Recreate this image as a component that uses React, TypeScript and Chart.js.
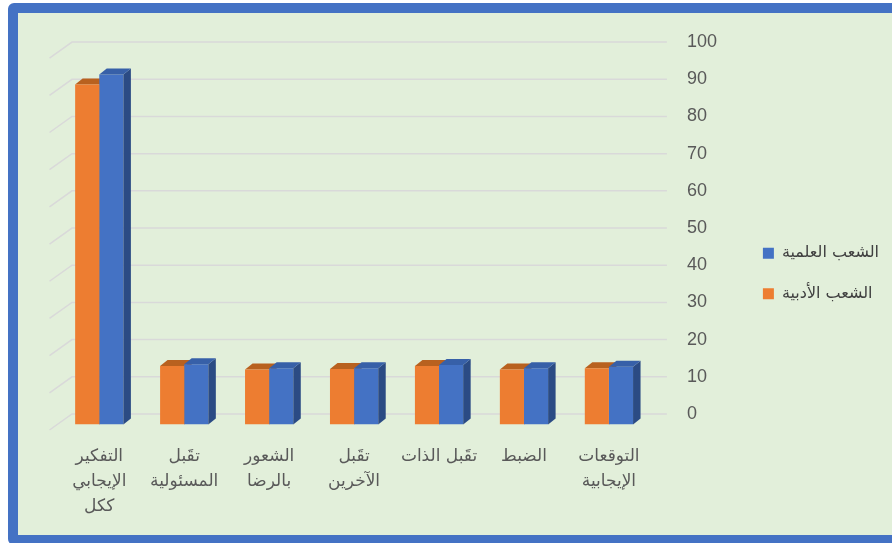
import React, { useEffect, useRef } from "react";
import { Chart, registerables } from "chart.js";

Chart.register(...registerables);

// ---- data ----
const categories: (string | string[])[] = [
  ["التفكير", "الإيجابي", "ككل"],
  ["تقَبل", "المسئولية"],
  ["الشعور", "بالرضا"],
  ["تقَبل", "الآخرين"],
  "تقَبل الذات",
  "الضبط",
  ["التوقعات", "الإيجابية"],
];
const seriesNames = ["الشعب الأدبية", "الشعب العلمية"];
const literaryValues = [91.4, 15.7, 14.8, 14.9, 15.7, 14.8, 15.1];
const scientificValues = [94.1, 16.2, 15.1, 15.1, 16.0, 15.1, 15.5];
const yTickValues = [0, 10, 20, 30, 40, 50, 60, 70, 80, 90, 100];

// ---- style ----
const ORANGE = "#ED7D31";
const ORANGE_TOP = "#B8611F";
const ORANGE_SIDE = "#A9561A";
const BLUE = "#4472C4";
const BLUE_TOP = "#3760A8";
const BLUE_SIDE = "#2B4B84";
const DEPTH_X = 7.5;
const DEPTH_Y = 6;
const GRID = "#D9D9D9";
const TEXT = "#595959";

function drawFaces(chart: any, dsIndex: number, topColor: string, sideColor: string) {
  const ctx = chart.ctx as CanvasRenderingContext2D;
  const meta = chart.getDatasetMeta(dsIndex);
  ctx.save();
  for (const el of meta.data) {
    const { x, y, base, width } = el.getProps(["x", "y", "base", "width"], true);
    const l = x - width / 2;
    const r = x + width / 2;
    ctx.fillStyle = sideColor;
    ctx.beginPath();
    ctx.moveTo(r, y);
    ctx.lineTo(r + DEPTH_X, y - DEPTH_Y);
    ctx.lineTo(r + DEPTH_X, base - DEPTH_Y);
    ctx.lineTo(r, base);
    ctx.closePath();
    ctx.fill();
    ctx.fillStyle = topColor;
    ctx.beginPath();
    ctx.moveTo(l, y);
    ctx.lineTo(l + DEPTH_X, y - DEPTH_Y);
    ctx.lineTo(r + DEPTH_X, y - DEPTH_Y);
    ctx.lineTo(r, y);
    ctx.closePath();
    ctx.fill();
  }
  ctx.restore();
}

const threeD = {
  id: "threeD",
  beforeDatasetsDraw(chart: any) {
    const { ctx, chartArea: a, scales } = chart;
    const ys = scales.y;
    ctx.save();
    ctx.strokeStyle = GRID;
    ctx.lineWidth = 1.5;
    for (const v of yTickValues) {
      const yb = ys.getPixelForValue(v) - 10.5;
      ctx.beginPath();
      ctx.moveTo(a.left - 7.3, yb + 16);
      ctx.lineTo(a.left + 15.2, yb);
      ctx.lineTo(a.right + 15.5, yb);
      ctx.stroke();
    }
    ctx.restore();
    drawFaces(chart, 0, ORANGE_TOP, ORANGE_SIDE);
  },
  afterDatasetsDraw(chart: any) {
    drawFaces(chart, 1, BLUE_TOP, BLUE_SIDE);
  },
};

export default function App() {
  const ref = useRef<HTMLCanvasElement>(null);
  useEffect(() => {
    const chart = new Chart(ref.current as HTMLCanvasElement, {
      type: "bar",
      data: {
        labels: categories,
        datasets: [
          { label: seriesNames[0], data: literaryValues, backgroundColor: ORANGE, borderWidth: 0 },
          { label: seriesNames[1], data: scientificValues, backgroundColor: BLUE, borderWidth: 0 },
        ],
      },
      options: {
        responsive: false,
        animation: false,
        layout: { padding: { left: 56.8, top: 18.9, right: 3, bottom: 15 } },
        datasets: { bar: { categoryPercentage: 0.568, barPercentage: 1 } },
        scales: {
          x: {
            offset: true,
            grid: { display: false, drawTicks: false },
            border: { display: false },
            ticks: {
              padding: 20,
              color: TEXT,
              autoSkip: false,
              maxRotation: 0,
              minRotation: 0,
              font: { family: "'DejaVu Sans', sans-serif", size: 17, lineHeight: 1.45 },
            },
            afterFit: (s: any) => {
              s.height = 103.5;
            },
          },
          y: {
            position: "right",
            min: 0,
            max: 101.7,
            afterBuildTicks: (s: any) => {
              s.ticks = yTickValues.map((v) => ({ value: v }));
            },
            grid: { display: false, drawTicks: false },
            border: { display: false },
            ticks: {
              labelOffset: -10.5,
              padding: 35.5,
              color: TEXT,
              font: { family: "'Liberation Sans', sans-serif", size: 18 },
            },
            afterFit: (s: any) => {
              s.width = 87;
            },
          },
        },
        plugins: {
          legend: {
            position: "right",
            reverse: true,
            labels: {
              boxWidth: 11,
              boxHeight: 11,
              padding: 24.5,
              color: "#404040",
              font: { family: "'DejaVu Sans', sans-serif", size: 16 },
            },
          },
          tooltip: { enabled: false },
        },
      },
      plugins: [threeD],
    } as any);
    return () => chart.destroy();
  }, []);

  return (
    <div
      style={{
        position: "absolute",
        left: 0,
        top: 0,
        width: 892,
        height: 543,
        overflow: "hidden",
        background: "#ffffff",
      }}
    >
      <div
        style={{
          position: "absolute",
          left: 8,
          top: 3,
          width: 900,
          height: 522,
          border: "10px solid #4472C4",
          borderRadius: 6,
          background: "#E2EFDA",
        }}
      />
      <canvas
        ref={ref}
        width={892}
        height={543}
        style={{ position: "absolute", left: 0, top: 0, width: 892, height: 543 }}
      />
    </div>
  );
}
